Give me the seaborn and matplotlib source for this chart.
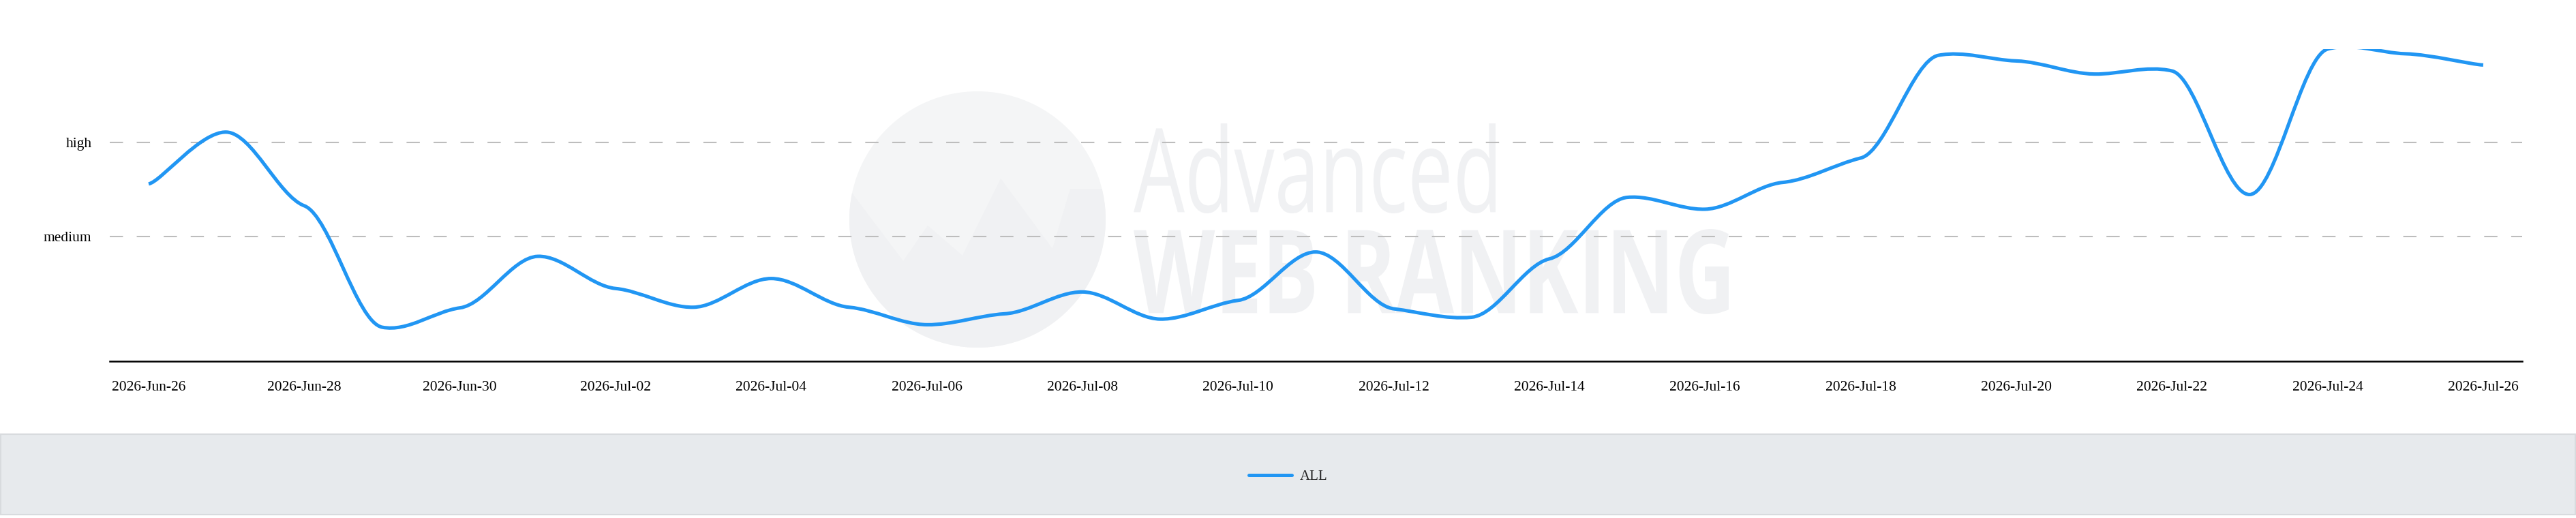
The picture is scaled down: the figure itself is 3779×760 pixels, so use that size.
import pandas as pd
import seaborn as sns
import matplotlib.pyplot as plt
import matplotlib.dates as mdates
from matplotlib.path import Path
from matplotlib.patches import PathPatch, Circle, Rectangle, Polygon
from matplotlib.textpath import TextPath
from matplotlib.font_manager import FontProperties
from matplotlib.transforms import Affine2D, IdentityTransform
from matplotlib.lines import Line2D

# data
dates = pd.date_range("2026-06-26", "2026-07-26", freq="D")
values = [56.8, 73.4, 49.8, 10.9, 17.1, 33.6, 23.3, 17.3, 26.5, 17.3, 11.7,
          15.2, 22.2, 13.5, 19.5, 35.0, 16.8, 14.1, 32.8, 52.5, 48.7, 57.3,
          65.1, 98.0, 96.2, 92.0, 93.0, 53.4, 100.0, 98.5, 94.9]
level_ticks = [40, 70]
level_labels = ["medium", "high"]
series_name = "ALL"

BLUE = "#2196f3"
WM = "#f0f1f3"
W, H = 3780, 760


def tension_path(xy, kx=1.0, ky=0.3):
    """ smooth curve through the points, tension smoothing (less in y than in x) """
    pts = [tuple(p) for p in xy]
    n = len(pts)
    verts = [pts[0]]
    codes = [Path.MOVETO]
    for i in range(n - 1):
        p0 = pts[i - 1] if i > 0 else pts[i]
        p1 = pts[i]
        p2 = pts[i + 1]
        p3 = pts[i + 2] if i + 2 < n else pts[i + 1]
        ca = (p1[0] + (p2[0] - p0[0]) / 6 * kx, p1[1] + (p2[1] - p0[1]) / 6 * ky)
        cb = (p2[0] - (p3[0] - p1[0]) / 6 * kx, p2[1] - (p3[1] - p1[1]) / 6 * ky)
        verts += [ca, cb, p2]
        codes += [Path.CURVE4] * 3
    return Path(verts, codes)


def text_in_box(ax, text, x0, y0, x1, y1, weight="normal"):
    """ watermark text stretched into a pixel box (top-origin coords) """
    tp = TextPath((0, 0), text, size=1, prop=FontProperties(family="Open Sans", weight=weight))
    ext = tp.get_extents()
    tr = (Affine2D().translate(-ext.x0, -ext.y0)
          .scale((x1 - x0) / ext.width, (y1 - y0) / ext.height)
          .translate(x0, H - y1))
    patch = PathPatch(tr.transform_path(tp), facecolor=WM, edgecolor="none",
                      transform=IdentityTransform(), zorder=0.2)
    ax.add_patch(patch)


sns.set_theme(style="white")
plt.rcParams["font.family"] = ["Liberation Serif", "DejaVu Serif"]
plt.rcParams["lines.scale_dashes"] = False

fig = plt.figure(figsize=(W / 100, H / 100), dpi=100)
ax = fig.add_axes([161 / W, 230 / H, (3700 - 161) / W, 458 / H])
ax.set_facecolor("white")

# watermark: globe + "Advanced WEB RANKING"
globe = Circle((1434, H - 322), 188, facecolor="#f4f5f6", edgecolor="none",
               transform=IdentityTransform(), zorder=0.1)
ax.add_patch(globe)
w_pts = [(1249, 282), (1325, 383), (1361, 331), (1412, 375), (1468, 262), (1544, 365), (1570, 277)]
lower = Polygon([(x, H - y) for x, y in w_pts] + [(1640, H - 277), (1640, H - 530), (1230, H - 530), (1230, H - 282)],
                facecolor=WM, edgecolor="none", transform=IdentityTransform(), zorder=0.15)
ax.add_patch(lower)
lower.set_clip_path(globe)
text_in_box(ax, "Advanced", 1663, 181, 2194, 313)
text_in_box(ax, "WEB RANKING", 1663, 336, 2536, 461, weight="bold")

sns.lineplot(x=dates, y=values, ax=ax, color=BLUE, linewidth=3.7)
raw = ax.lines[0]
ax.add_patch(PathPatch(tension_path(raw.get_xydata()), facecolor="none", edgecolor=BLUE,
                       linewidth=3.7, zorder=3))
raw.remove()

ax.set_xlim(mdates.date2num(dates[0]) - 0.5, mdates.date2num(dates[-1]) + 0.5)
ax.set_ylim(0, 100)
ax.set_xticks(dates[::2])
ax.xaxis.set_major_formatter(mdates.DateFormatter("%Y-%b-%d"))
ax.set_yticks(level_ticks, level_labels)
ax.set_xlabel("")
ax.set_ylabel("")
ax.yaxis.grid(True, color="#bdbdbd", linestyle=(0, (14, 14.5)), linewidth=1.5)
ax.xaxis.grid(False)
ax.tick_params(axis="both", length=0, labelsize=15.5, colors="black")
ax.tick_params(axis="x", pad=21)
ax.tick_params(axis="y", pad=19)
for side in ["top", "left", "right"]:
    ax.spines[side].set_visible(False)
ax.spines["bottom"].set_color("black")
ax.spines["bottom"].set_linewidth(1.8)

# legend strip at the bottom
fig.add_artist(Rectangle((1, 5), W - 3, 118, facecolor="#e7eaed", edgecolor="#d8dbde",
                         linewidth=1.5, transform=IdentityTransform()))
fig.legend(handles=[Line2D([], [], color=BLUE, linewidth=3.6)], labels=[series_name],
           loc="center", bbox_to_anchor=(1890 / W, 61 / H), frameon=False,
           fontsize=15, handlelength=3.0, handletextpad=0.6)

plt.savefig("out.png", dpi=100)
plt.close()
